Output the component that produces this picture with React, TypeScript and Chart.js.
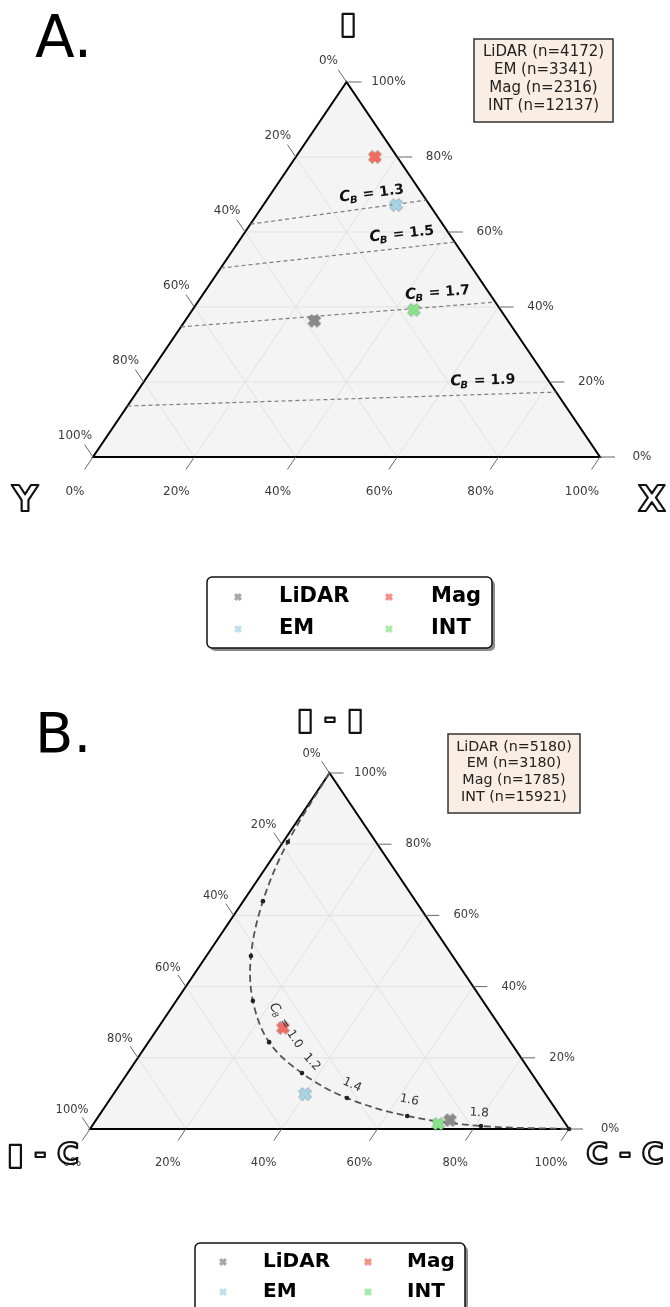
import React, { useEffect, useRef } from "react";
import { Chart, registerables } from "chart.js";
Chart.register(...registerables);

// ---------------- DATA ----------------
const SERIES_NAMES = ["LiDAR", "EM", "Mag", "INT"];
const SERIES_COLORS = ["#8a8a8a", "#a8d4e6", "#f36b5f", "#88e38a"];
const TICK_VALUES = [0, 20, 40, 60, 80, 100];
const GRID_VALUES = [20, 40, 60, 80];

// Panel A: mean composition per series (top-apex %, X %), Y = 100 - top - X
const A_TOP = [36.3, 67.2, 80.0, 39.2];
const A_X = [25.5, 26.2, 15.6, 43.7];
const A_COUNTS = [4172, 3341, 2316, 12137];
// C_B iso-lines: top-apex % where each line meets the left and right edges
const A_CB_LEVELS = ["1.3", "1.5", "1.7", "1.9"];
const A_CB_TOP_LEFT_EDGE = [62.1, 50.4, 34.7, 13.6];
const A_CB_TOP_RIGHT_EDGE = [68.5, 57.3, 41.3, 17.3];

// Panel B
const B_TOP = [2.5, 9.8, 28.4, 1.4];
const B_X = [73.9, 40.0, 26.1, 72.0];
const B_COUNTS = [5180, 3180, 1785, 15921];
const B_CURVE_TOP = [100, 80.6, 64.0, 48.6, 36.0, 24.4, 15.7, 8.7, 3.65, 0.84, 0];
const B_CURVE_X = [0, 1.0, 4.1, 9.3, 16.0, 25.2, 36.4, 49.3, 64.4, 81.2, 100];
const B_CURVE_LABELS = ["1.0", "1.2", "1.4", "1.6", "1.8"];

// ---------------- LAYOUT (positions / styles) ----------------
const FONT = '"DejaVu Sans", sans-serif';
const A_CB_LABEL_FRAC = [0.7, 0.78, 0.82, 0.83];
// label anchors for B curve in ternary (top %, X %), rotation degrees
const B_LABEL_POS_TOP = [29.2, 18.8, 12.4, 8.1, 4.5];
const B_LABEL_POS_X = [26.5, 36.9, 48.5, 62.6, 79.0];
const B_LABEL_ROT = [57, 47, 25, 12, 3];

type Pt = { x: number; y: number };

function toData(top: number, x: number): Pt {
  return { x: (x + top / 2) / 100, y: top / 100 };
}

function makeXMarker(color: string, size: number, edge: boolean, alpha = 1): HTMLCanvasElement {
  const c = document.createElement("canvas");
  const pad = 2;
  c.width = c.height = size + pad * 2;
  const ctx = c.getContext("2d")!;
  ctx.translate(c.width / 2, c.height / 2);
  ctx.rotate(Math.PI / 4);
  const L = ((size / 2) * Math.SQRT2) / 1.42;
  const a = 0.42 * L;
  const v = [
    [a, L], [a, a], [L, a], [L, -a], [a, -a], [a, -L],
    [-a, -L], [-a, -a], [-L, -a], [-L, a], [-a, a], [-a, L],
  ];
  ctx.beginPath();
  v.forEach(([px, py], i) => (i ? ctx.lineTo(px, py) : ctx.moveTo(px, py)));
  ctx.closePath();
  ctx.globalAlpha = alpha;
  ctx.fillStyle = color;
  ctx.fill();
  if (edge) {
    ctx.globalAlpha = 0.75;
    ctx.strokeStyle = "#444";
    ctx.lineWidth = 0.8;
    ctx.setLineDash([1.5, 1.2]);
    ctx.stroke();
  }
  return c;
}

function outlinedText(ctx: CanvasRenderingContext2D, text: string, x: number, y: number, size: number) {
  ctx.save();
  ctx.font = `bold ${size}px ${FONT}`;
  ctx.textAlign = "center";
  ctx.textBaseline = "middle";
  ctx.lineJoin = "round";
  ctx.fillStyle = "#fff";
  ctx.fillText(text, x, y);
  ctx.strokeStyle = "#111";
  ctx.lineWidth = 2.2;
  ctx.strokeText(text, x, y);
  ctx.restore();
}

function drawCB(ctx: CanvasRenderingContext2D, value: string, size: number, weight: string, color: string) {
  // draws "C_B = value" centered at origin
  const fC = `${weight} italic ${size + 1}px ${FONT}`;
  const fB = `${weight} italic ${Math.round(size * 0.68)}px ${FONT}`;
  const fR = `${weight} ${size}px ${FONT}`;
  const rest = " = " + value;
  ctx.font = fC;
  const wC = ctx.measureText("C").width;
  ctx.font = fB;
  const wB = ctx.measureText("B").width;
  ctx.font = fR;
  const wR = ctx.measureText(rest).width;
  const total = wC + wB + wR;
  let x = -total / 2;
  ctx.fillStyle = color;
  ctx.textAlign = "left";
  ctx.textBaseline = "alphabetic";
  const base = size * 0.36;
  ctx.font = fC;
  ctx.fillText("C", x, base);
  x += wC - 1;
  ctx.font = fB;
  ctx.fillText("B", x, base + size * 0.22);
  x += wB + 1;
  ctx.font = fR;
  ctx.fillText(rest, x, base);
}

type PanelCfg = {
  height: number;
  padding: { left: number; right: number; top: number; bottom: number };
  title: { text: string; x: number; y: number; size: number };
  corners: { text: string; x: number; y: number; size: number }[];
  tickFont: number;
  tickLen: number;
  offRight: number;
  offLeft: [number, number];
  offBottom: [number, number];
  stats: { x: number; y: number; w: number; h: number; first: number; lineH: number; font: number };
  legend: { x: number; y: number; w: number; h: number; cols: number[]; rows: number[]; font: number; marker: number };
  counts: number[];
  top: number[];
  xs: number[];
  extraDatasets: any[];
  extraDraw?: (chart: any, P: (t: number, x: number) => Pt) => void;
};

function buildChart(canvas: HTMLCanvasElement, cfg: PanelCfg) {
  const markerImgs = SERIES_COLORS.map((c) => makeXMarker(c, 13, true));
  const legendImgs = SERIES_COLORS.map((c) => makeXMarker(c, 8, false, 0.75));

  const seriesDatasets = SERIES_NAMES.map((name, i) => ({
    label: name,
    data: [toData(cfg.top[i], cfg.xs[i])],
    pointStyle: markerImgs[i],
    pointRadius: 6,
    backgroundColor: SERIES_COLORS[i],
    borderColor: SERIES_COLORS[i],
    showLine: false,
    clip: false,
    order: 0,
  }));

  const plugin = {
    id: "ternaryDeco",
    beforeDatasetsDraw(chart: any) {
      const ctx: CanvasRenderingContext2D = chart.ctx;
      const sx = chart.scales.x;
      const sy = chart.scales.y;
      const P = (t: number, x: number): Pt => {
        const d = toData(t, x);
        return { x: sx.getPixelForValue(d.x), y: sy.getPixelForValue(d.y) };
      };
      const apex = P(100, 0);
      const bl = P(0, 0);
      const br = P(0, 100);
      ctx.save();
      ctx.beginPath();
      ctx.moveTo(apex.x, apex.y);
      ctx.lineTo(bl.x, bl.y);
      ctx.lineTo(br.x, br.y);
      ctx.closePath();
      ctx.fillStyle = "#f4f4f4";
      ctx.fill();
      ctx.strokeStyle = "#e2e2e2";
      ctx.lineWidth = 1;
      const seg = (a: Pt, b: Pt) => {
        ctx.beginPath();
        ctx.moveTo(a.x, a.y);
        ctx.lineTo(b.x, b.y);
        ctx.stroke();
      };
      GRID_VALUES.forEach((v) => {
        seg(P(v, 0), P(v, 100 - v));
        seg(P(0, v), P(100 - v, v));
        seg(P(0, 100 - v), P(100 - v, 0));
      });
      ctx.beginPath();
      ctx.moveTo(apex.x, apex.y);
      ctx.lineTo(bl.x, bl.y);
      ctx.lineTo(br.x, br.y);
      ctx.closePath();
      ctx.strokeStyle = "#000";
      ctx.lineWidth = 2;
      ctx.lineJoin = "miter";
      ctx.stroke();
      const unit = (a: Pt, b: Pt) => {
        const dx = b.x - a.x, dy = b.y - a.y, n = Math.hypot(dx, dy);
        return { x: dx / n, y: dy / n };
      };
      const dL = unit(br, apex);
      const dB = unit(apex, bl);
      const L = cfg.tickLen;
      ctx.strokeStyle = "#666";
      ctx.lineWidth = 1;
      ctx.fillStyle = "#3a3a3a";
      ctx.font = `${cfg.tickFont}px ${FONT}`;
      ctx.textAlign = "center";
      ctx.textBaseline = "middle";
      TICK_VALUES.forEach((v) => {
        const lab = v + "%";
        const pr = P(v, 100 - v);
        seg(pr, { x: pr.x + L, y: pr.y });
        ctx.fillText(lab, pr.x + cfg.offRight, pr.y);
        const pl = P(100 - v, 0);
        seg(pl, { x: pl.x + dL.x * L, y: pl.y + dL.y * L });
        ctx.fillText(lab, pl.x + cfg.offLeft[0], pl.y + cfg.offLeft[1]);
        const pb = P(0, v);
        seg(pb, { x: pb.x + dB.x * L, y: pb.y + dB.y * L });
        ctx.fillText(lab, pb.x + cfg.offBottom[0], pb.y + cfg.offBottom[1]);
      });
      ctx.restore();
    },
    afterDraw(chart: any) {
      const ctx: CanvasRenderingContext2D = chart.ctx;
      const sx = chart.scales.x;
      const sy = chart.scales.y;
      const P = (t: number, x: number): Pt => {
        const d = toData(t, x);
        return { x: sx.getPixelForValue(d.x), y: sy.getPixelForValue(d.y) };
      };
      ctx.save();
      if (cfg.extraDraw) cfg.extraDraw(chart, P);
      ctx.fillStyle = "#000";
      ctx.font = `${cfg.title.size}px ${FONT}`;
      ctx.textAlign = "left";
      ctx.textBaseline = "alphabetic";
      ctx.fillText(cfg.title.text, cfg.title.x, cfg.title.y);
      cfg.corners.forEach((c) => outlinedText(ctx, c.text, c.x, c.y, c.size));
      const s = cfg.stats;
      ctx.fillStyle = "#f9ede4";
      ctx.fillRect(s.x, s.y, s.w, s.h);
      ctx.strokeStyle = "#333";
      ctx.lineWidth = 1.5;
      ctx.strokeRect(s.x, s.y, s.w, s.h);
      ctx.fillStyle = "#222";
      ctx.font = `${s.font}px ${FONT}`;
      ctx.textAlign = "center";
      ctx.textBaseline = "middle";
      SERIES_NAMES.forEach((n, i) => {
        ctx.fillText(`${n} (n=${cfg.counts[i]})`, s.x + s.w / 2, s.y + s.first + i * s.lineH);
      });
      const lg = cfg.legend;
      const rr = (x: number, y: number, w: number, h: number, r: number) => {
        ctx.beginPath();
        ctx.moveTo(x + r, y);
        ctx.arcTo(x + w, y, x + w, y + h, r);
        ctx.arcTo(x + w, y + h, x, y + h, r);
        ctx.arcTo(x, y + h, x, y, r);
        ctx.arcTo(x, y, x + w, y, r);
        ctx.closePath();
      };
      rr(lg.x + 3, lg.y + 3, lg.w, lg.h, 5);
      ctx.fillStyle = "rgba(0,0,0,0.45)";
      ctx.fill();
      rr(lg.x, lg.y, lg.w, lg.h, 5);
      ctx.fillStyle = "#fff";
      ctx.fill();
      ctx.strokeStyle = "#111";
      ctx.lineWidth = 1.5;
      ctx.stroke();
      ctx.font = `bold ${lg.font}px ${FONT}`;
      ctx.textAlign = "left";
      ctx.fillStyle = "#000";
      SERIES_NAMES.forEach((n, i) => {
        const col = Math.floor(i / 2);
        const row = i % 2;
        const img = legendImgs[i];
        const mx = lg.x + lg.cols[col * 2];
        const my = lg.y + lg.rows[row];
        ctx.drawImage(img, mx - img.width / 2, my - img.height / 2);
        ctx.fillText(n, lg.x + lg.cols[col * 2 + 1], my);
      });
      ctx.restore();
    },
  };

  return new Chart(canvas, {
    type: "scatter",
    data: { datasets: [...seriesDatasets, ...cfg.extraDatasets] },
    options: {
      animation: false,
      responsive: false,
      devicePixelRatio: 1,
      events: [],
      layout: { padding: cfg.padding },
      plugins: { legend: { display: false }, tooltip: { enabled: false } },
      scales: {
        x: { type: "linear", min: 0, max: 1, display: false },
        y: { type: "linear", min: 0, max: 1, display: false },
      },
    },
    plugins: [plugin],
  } as any);
}

const cfgA: PanelCfg = {
  height: 660,
  padding: { left: 93, right: 70, top: 82, bottom: 203 },
  title: { text: "A.", x: 35, y: 57, size: 58 },
  corners: [
    { text: "▮", x: 348, y: 25, size: 30 },
    { text: "Y", x: 25, y: 502, size: 36 },
    { text: "X", x: 652, y: 502, size: 36 },
  ],
  tickFont: 12,
  tickLen: 15,
  offRight: 42,
  offLeft: [-18, -21],
  offBottom: [-18, 35],
  stats: { x: 474, y: 39, w: 139, h: 83, first: 13, lineH: 18, font: 15 },
  legend: { x: 207, y: 577, w: 285, h: 71, cols: [31, 72, 182, 224], rows: [20, 52], font: 21, marker: 8 },
  counts: A_COUNTS,
  top: A_TOP,
  xs: A_X,
  extraDatasets: A_CB_LEVELS.map((lv, i) => ({
    label: "CB " + lv,
    data: [toData(A_CB_TOP_LEFT_EDGE[i], 0), toData(A_CB_TOP_RIGHT_EDGE[i], 100 - A_CB_TOP_RIGHT_EDGE[i])],
    showLine: true,
    borderColor: "#7d7d7d",
    borderWidth: 1.2,
    borderDash: [4, 3],
    pointRadius: 0,
    clip: false,
    order: 2,
  })),
  extraDraw: (chart, P) => {
    const ctx: CanvasRenderingContext2D = chart.ctx;
    A_CB_LEVELS.forEach((lv, i) => {
      const a = P(A_CB_TOP_LEFT_EDGE[i], 0);
      const b = P(A_CB_TOP_RIGHT_EDGE[i], 100 - A_CB_TOP_RIGHT_EDGE[i]);
      const f = A_CB_LABEL_FRAC[i];
      const ang = Math.atan2(b.y - a.y, b.x - a.x);
      const cx = a.x + (b.x - a.x) * f + Math.sin(ang) * 15;
      const cy = a.y + (b.y - a.y) * f - Math.cos(ang) * 15;
      ctx.save();
      ctx.translate(cx, cy);
      ctx.rotate(ang);
      drawCB(ctx, lv, 14, "bold", "#111");
      ctx.restore();
    });
  },
};

const cfgB: PanelCfg = {
  height: 647,
  padding: { left: 90, right: 101, top: 113, bottom: 178 },
  title: { text: "B.", x: 35, y: 92, size: 56 },
  corners: [
    { text: "▮ - ▮", x: 330, y: 61, size: 30 },
    { text: "▮ - C", x: 43, y: 496, size: 30 },
    { text: "C - C", x: 625, y: 496, size: 30 },
  ],
  tickFont: 11.5,
  tickLen: 14,
  offRight: 41,
  offLeft: [-18, -19],
  offBottom: [-18, 34],
  stats: { x: 448, y: 74, w: 132, h: 79, first: 13, lineH: 16.7, font: 14.3 },
  legend: { x: 195, y: 583, w: 270, h: 71, cols: [28, 68, 173, 212], rows: [19, 49], font: 20, marker: 8 },
  counts: B_COUNTS,
  top: B_TOP,
  xs: B_X,
  extraDatasets: [
    {
      label: "CB curve",
      data: B_CURVE_TOP.map((t, i) => toData(t, B_CURVE_X[i])),
      showLine: true,
      tension: 0.35,
      borderColor: "#555",
      borderWidth: 1.8,
      borderDash: [7, 4],
      pointRadius: B_CURVE_TOP.map((t, i) => (i === 0 ? 0 : 2.3)),
      pointBackgroundColor: "#222",
      pointBorderColor: "#222",
      pointBorderWidth: 0,
      clip: false,
      order: 2,
    },
  ],
  extraDraw: (chart, P) => {
    const ctx: CanvasRenderingContext2D = chart.ctx;
    B_CURVE_LABELS.forEach((lv, i) => {
      const p = P(B_LABEL_POS_TOP[i], B_LABEL_POS_X[i]);
      ctx.save();
      ctx.translate(p.x, p.y);
      ctx.rotate((B_LABEL_ROT[i] * Math.PI) / 180);
      if (i === 0) {
        drawCB(ctx, lv, 12, "normal", "#333");
      } else {
        ctx.font = `12px ${FONT}`;
        ctx.fillStyle = "#333";
        ctx.textAlign = "center";
        ctx.textBaseline = "middle";
        ctx.fillText(lv, 0, 0);
      }
      ctx.restore();
    });
  },
};

function Panel({ cfg, top }: { cfg: PanelCfg; top: number }) {
  const ref = useRef<HTMLCanvasElement>(null);
  useEffect(() => {
    const chart = buildChart(ref.current!, cfg);
    return () => chart.destroy();
  }, [cfg]);
  return (
    <canvas
      ref={ref}
      width={670}
      height={cfg.height}
      style={{ position: "absolute", left: 0, top, width: 670, height: cfg.height }}
    />
  );
}

export default function App() {
  return (
    <div style={{ position: "absolute", left: 0, top: 0, width: 670, height: 1307, background: "#fff", overflow: "hidden" }}>
      <Panel cfg={cfgA} top={0} />
      <Panel cfg={cfgB} top={660} />
    </div>
  );
}
